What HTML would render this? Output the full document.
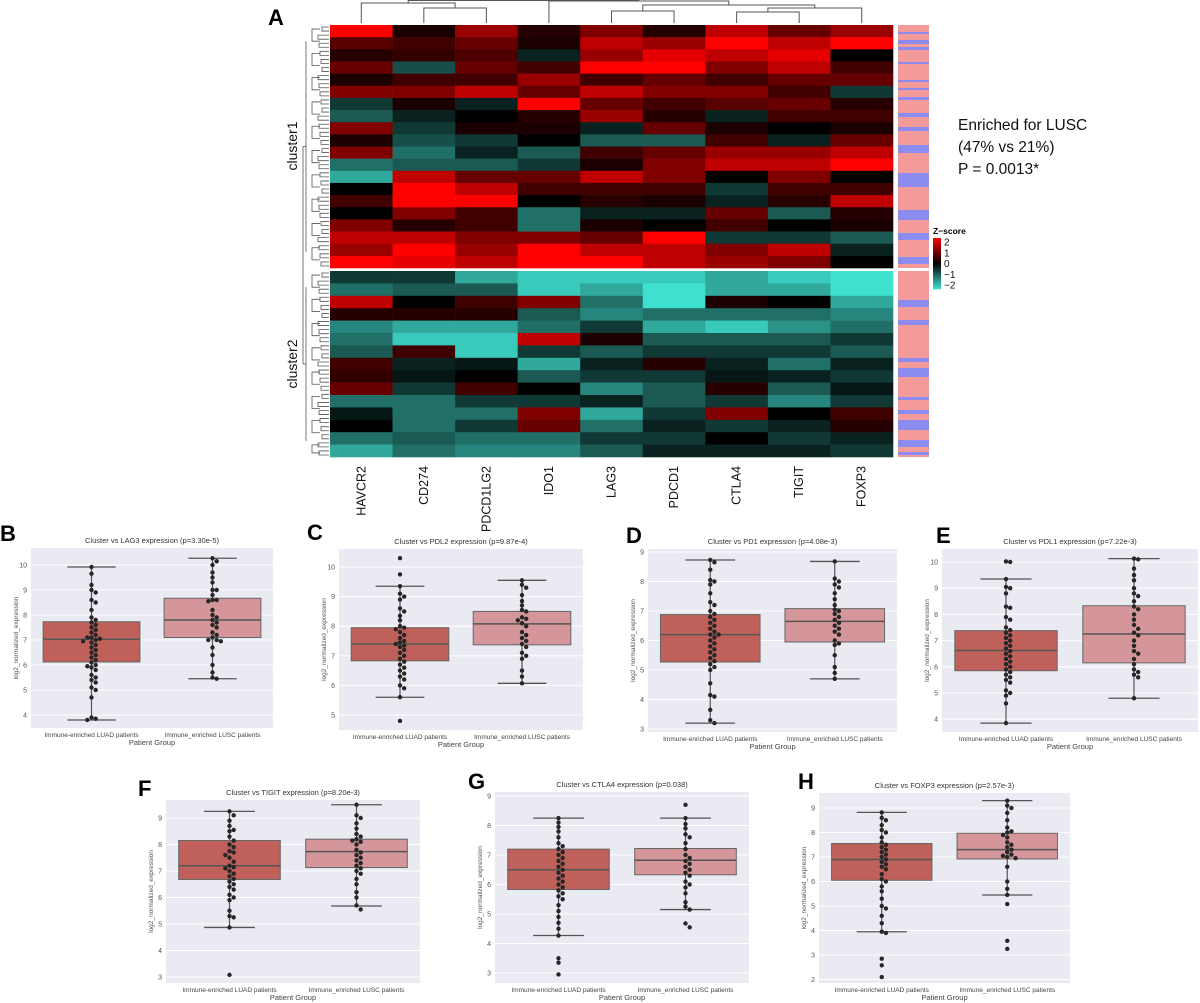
<!DOCTYPE html>
<html><head><meta charset="utf-8"><style>
html,body{margin:0;padding:0;background:#fff}
svg{display:block;font-family:"Liberation Sans",Arial,sans-serif}
</style></head><body>
<svg id="fig" width="1200" height="1003" viewBox="0 0 1200 1003">
<rect x="0" y="0" width="1200" height="1003" fill="#fff"/>
<text x="268" y="25" font-size="22" font-weight="bold">A</text>
<text x="958" y="130" font-size="15.5" fill="#111">Enriched for LUSC</text>
<text x="958" y="152" font-size="15.5" fill="#111">(47% vs 21%)</text>
<text x="958" y="174" font-size="15.5" fill="#111">P = 0.0013*</text>
<g id="heat"></g>
<g id="boxes"></g>
</svg>
<script>
// ---------- Heatmap data (block z-scores) ----------
const hmGenes = ["HAVCR2","CD274","PDCD1LG2","IDO1","LAG3","PDCD1","CTLA4","TIGIT","FOXP3"];
const hmC1 = [
 [2,0.7,0.3,0.8,0.2,1,-0.5,-0.8,1,0.2,1,-1,-1.5,0,0.5,0,1,1.5,1.2,2],
 [0.2,0.5,0.4,-0.7,0.5,1,0.2,-0.3,-0.5,-0.7,-1,-0.8,1.5,2,2,1,0.3,1.5,2,1.8],
 [1.2,0.8,0.6,0.8,0.5,1.5,-0.3,0,0.2,-0.5,-0.3,-0.8,0.8,1.5,2,0.5,0.5,1,1.2,1.5],
 [0.3,0.2,-0.3,0.5,1.2,0.8,2,0.3,0.2,0,-0.8,-0.5,0.8,0.5,0,-1,-1,1,2,2],
 [1,1.5,1.2,2,0.5,1.5,0.8,1.2,-0.3,-0.8,0.5,0.2,1.5,0.5,0.3,-0.3,0.2,0.8,1.5,2],
 [0.3,1.2,1.8,2,0.8,1,0.5,0.3,0.8,-0.8,0.8,1,1,0.5,0.2,-0.3,0,2,1.5,1.5],
 [1.5,2,1.5,1,0.5,1,0.7,-0.3,0.2,0.5,1.2,1.5,0,-0.5,-0.3,0.8,0.5,-0.5,1,1.2],
 [0.8,1.5,1.8,1.5,0.8,0.5,0.8,0.5,0,-0.3,1.2,1.5,1,0.5,0.3,-0.8,0,-0.5,1.5,1],
 [1.2,2,0,0.5,0.8,-0.5,0.3,0.5,0.2,0.8,1.5,2,0,0.5,1.5,0.3,0.2,-0.8,-0.3,0]
];
const hmC2 = [
 [-0.5,-1,1.5,0.3,-1.2,-1,-0.8,0.5,0.4,0.8,-1,-0.2,0,-1,-1.5],
 [-0.5,-0.8,0,0.3,-1.5,-1.8,0.5,-0.3,-0.2,-0.5,-1,-1,-1,-0.8,-1],
 [-1.5,-0.8,0.5,0.3,-1.5,-1.8,-1.8,-0.2,0,0.5,-0.5,-1,-0.5,-1,-1.2],
 [-1.8,-1.8,1,-0.8,-1,1.5,-0.5,-1.5,-0.8,0,-0.5,1,0.8,-1,-1.2],
 [-1.8,-1.5,-1,-1.2,-0.5,0.2,-0.8,-0.3,-0.5,-1.2,-0.3,-1.5,-1,-0.5,-0.8],
 [-1.8,-2,-2,-1,-1.5,-0.8,-0.5,0.3,-0.5,-0.8,-0.8,-0.5,-0.3,-0.5,-0.3],
 [-1.5,-1.5,0.2,-1,-1.8,-0.8,-0.5,-0.3,-0.2,0.3,-0.5,1,-0.5,0,-0.3],
 [-1.8,-1.5,0,-1,-1.3,-0.8,-0.5,-1,-0.3,-0.8,-1.2,0,-0.3,-0.5,-0.3],
 [-2,-2,-1.5,-1.2,-1,-0.5,-0.8,-0.3,-0.5,-0.2,-0.5,0.5,0.3,-0.3,-0.5]
];
const legendTicks = [2,1,0,-1,-2];

// ---------- Box plot data ----------
const groups = ["Immune-enriched LUAD patients","Immune_enriched LUSC patients"];
const panelTitles = ["Cluster vs LAG3 expression (p=3.30e-5)","Cluster vs PDL2 expression (p=9.87e-4)","Cluster vs PD1 expression (p=4.08e-3)","Cluster vs PDL1 expression (p=7.22e-3)","Cluster vs TIGIT expression (p=8.20e-3)","Cluster vs CTLA4 expression (p=0.038)","Cluster vs FOXP3 expression (p=2.57e-3)"];
const panelLetters = ["B","C","D","E","F","G","H"];
const statsLUAD = [[3.8,6.12,7.03,7.73,9.92],[5.6,6.83,7.4,7.95,9.35],[3.2,5.27,6.2,6.88,8.73],[3.85,5.85,6.62,7.38,9.35],[4.87,6.68,7.2,8.15,9.25],[4.27,5.83,6.5,7.2,8.25],[3.95,6.05,6.9,7.55,8.82]];
const statsLUSC = [[5.45,7.1,7.8,8.67,10.27],[6.07,7.37,8.08,8.5,9.55],[4.7,5.95,6.65,7.08,8.68],[4.8,6.15,7.25,8.33,10.13],[5.68,7.13,7.73,8.2,9.5],[5.15,6.33,6.82,7.22,8.25],[5.45,6.92,7.3,7.97,9.3]];
const pointsLUAD = [
 [9.92,9.65,9.2,9.0,8.9,8.6,8.5,8.2,7.9,7.8,7.7,7.6,7.5,7.4,7.3,7.2,7.1,7.1,7.05,7.0,6.95,6.9,6.8,6.7,6.6,6.5,6.4,6.3,6.2,6.1,6.0,5.95,5.9,5.8,5.6,5.5,5.4,5.3,5.1,5.0,4.7,3.9,3.85,3.8],
 [10.3,9.75,9.35,9.1,9.0,8.9,8.6,8.5,8.35,8.2,8.0,7.95,7.9,7.8,7.7,7.6,7.5,7.45,7.4,7.35,7.3,7.2,7.1,7.0,6.9,6.8,6.7,6.6,6.5,6.4,6.3,6.2,6.0,5.9,5.6,4.8],
 [8.73,8.65,8.4,8.05,8.0,7.9,7.6,7.3,7.2,7.0,6.9,6.8,6.7,6.6,6.5,6.4,6.3,6.2,6.2,6.1,6.0,5.9,5.8,5.7,5.6,5.5,5.4,5.3,5.2,5.1,5.0,4.55,4.15,4.1,3.65,3.3,3.2],
 [10.02,10.0,9.35,9.05,9.0,8.8,8.3,8.25,7.9,7.8,7.5,7.4,7.3,7.2,7.1,7.0,6.9,6.8,6.7,6.6,6.5,6.4,6.3,6.2,6.1,6.0,5.9,5.8,5.7,5.6,5.5,5.4,5.1,5.0,4.9,4.6,3.85],
 [9.25,9.1,8.9,8.7,8.55,8.5,8.3,8.15,8.0,7.9,7.75,7.7,7.6,7.5,7.35,7.2,7.15,7.1,7.0,6.9,6.8,6.7,6.6,6.5,6.4,6.3,6.1,6.0,5.9,5.5,5.3,5.25,4.87,3.08],
 [8.25,8.1,7.95,7.8,7.6,7.4,7.3,7.2,7.1,7.0,6.9,6.8,6.7,6.6,6.5,6.4,6.3,6.2,6.1,6.0,5.9,5.8,5.7,5.6,5.5,5.3,5.1,4.9,4.7,4.5,4.27,3.5,3.35,2.95],
 [8.82,8.6,8.5,8.3,8.1,8.0,7.8,7.6,7.5,7.4,7.3,7.2,7.1,7.0,6.9,6.8,6.7,6.6,6.5,6.3,6.1,6.0,5.8,5.6,5.3,5.0,4.9,4.6,4.3,3.95,3.9,2.85,2.58,2.1]
];
const pointsLUSC = [
 [10.27,10.15,10.0,9.7,9.5,9.3,9.0,9.0,8.8,8.6,8.6,8.55,8.2,8.0,7.9,7.8,7.7,7.6,7.5,7.3,7.2,7.1,7.0,7.0,6.95,6.7,6.4,6.0,5.7,5.5,5.45],
 [9.55,9.4,9.3,9.05,8.85,8.7,8.55,8.5,8.3,8.25,8.2,8.1,8.0,7.8,7.7,7.6,7.5,7.4,7.3,7.1,7.0,6.9,6.5,6.3,6.07],
 [8.68,8.1,8.0,7.9,7.8,7.6,7.4,7.2,7.05,7.0,6.9,6.8,6.7,6.6,6.5,6.4,6.3,6.2,6.0,5.9,5.85,5.5,5.1,4.9,4.7],
 [10.13,10.1,9.75,9.5,9.3,9.0,8.8,8.7,8.5,8.3,8.2,8.0,7.8,7.6,7.45,7.3,7.2,7.0,6.8,6.6,6.5,6.3,6.1,5.9,5.8,5.7,5.6,4.8],
 [9.5,9.1,9.0,8.8,8.6,8.4,8.3,8.2,8.15,8.1,8.0,7.8,7.7,7.6,7.5,7.4,7.3,7.2,7.1,7.0,6.9,6.7,6.5,6.2,6.0,5.7,5.55],
 [8.7,8.25,8.05,7.9,7.7,7.6,7.4,7.2,7.0,6.9,6.8,6.7,6.6,6.5,6.4,6.3,6.1,6.0,5.9,5.7,5.4,5.25,5.15,4.68,4.55],
 [9.3,9.1,9.0,8.8,8.5,8.2,8.05,8.0,7.9,7.8,7.6,7.5,7.4,7.3,7.2,7.1,7.05,7.0,6.95,6.6,6.0,5.7,5.45,5.08,3.58,3.25]
];
const tickLabels = [[4,5,6,7,8,9,10],[5,6,7,8,9,10],[3,4,5,6,7,8,9],[4,5,6,7,8,9,10],[3,4,5,6,7,8,9],[3,4,5,6,7,8,9],[2,3,4,5,6,7,8,9]];

const NS="http://www.w3.org/2000/svg";
function mk(tag,attrs,parent){const e=document.createElementNS(NS,tag);for(const k in attrs)e.setAttribute(k,attrs[k]);parent.appendChild(e);return e;}

// ---------- Heatmap ----------
const heat=document.getElementById('heat');
const HX0=330,HX1=893,C1Y0=25,C1Y1=268,C2Y0=271,C2Y1=457;
const colW=(HX1-HX0)/hmGenes.length;
function zcol(z){z=Math.max(-2,Math.min(2,z));
 if(z>=0){const t=z/2;return `rgb(${Math.round(255*t)},0,0)`;}
 const t=-z/2;return `rgb(${Math.round(64*t)},${Math.round(224*t)},${Math.round(208*t)})`;}
function drawCluster(data,y0,y1){
 data.forEach((col,ci)=>{const h=(y1-y0)/col.length;
  col.forEach((v,ri)=>{const r=mk('rect',{x:HX0+ci*colW,y:y0+ri*h,width:colW+0.3,height:h+0.3,fill:zcol(v)},heat);
   
   });});
}
drawCluster(hmC1,C1Y0,C1Y1);drawCluster(hmC2,C2Y0,C2Y1);
hmGenes.forEach((g,i)=>{const cx=HX0+(i+0.5)*colW;
 const t=mk('text',{x:0,y:0,'font-size':12.5,'text-anchor':'end',transform:`translate(${cx+4},${466}) rotate(-90)`,fill:'#111'},heat);
 t.textContent=g;
 
 });
const cx=i=>HX0+(i+0.5)*colW;
const dg=mk('g',{stroke:'#555','stroke-width':1,fill:'none'},heat);

function link(xa,xb,y,ya,yb){mk('path',{d:`M${xa},${ya}V${y}H${xb}V${yb}`},dg);}
link(cx(1),cx(2),8,23,23);link(cx(0),(cx(1)+cx(2))/2,3,23,8);
link(cx(4),cx(5),11,23,23);link(cx(6),cx(7),12,23,23);
link((cx(6)+cx(7))/2,cx(8),8,12,23);
link((cx(4)+cx(5))/2,((cx(6)+cx(7))/2+cx(8))/2,5,11,8);
const rx=((cx(4)+cx(5))/2+((cx(6)+cx(7))/2+cx(8))/2)/2;
link(cx(3),rx,1,23,5);
link((cx(0)+(cx(1)+cx(2))/2)/2,(cx(3)+rx)/2,0.5,3,1);
const lg=mk('g',{stroke:'#555','stroke-width':0.8,fill:'none'},heat);

function leftTree(y0,y1,n){const step=(y1-y0)/n;
 for(let i=0;i<n;i+=2){const ya=y0+(i+0.5)*step,yb=y0+(i+1.5)*step;const xj=322-((i*7)%5);
  mk('path',{d:`M329,${ya}H${xj}V${yb}H329`},lg);}
 for(let i=0;i<n;i+=6){const ya=y0+(i+1)*step,yb=y0+Math.min(n-1,i+4)*step;const xj=312-((i*3)%6);
  mk('path',{d:`M${320},${ya}H${xj}V${yb}H320`},lg);}
 const mid=(y0+y1)/2;mk('path',{d:`M306,${y0+step*4}V${y1-step*4}`},lg);
 mk('path',{d:`M306,${mid}H303`},lg);}
leftTree(C1Y0,C1Y1,60);leftTree(C2Y0,C2Y1,46);
mk('path',{d:`M303,${(C1Y0+C1Y1)/2}V${(C2Y0+C2Y1)/2}`},lg);
[['cluster1',146],['cluster2',364]].forEach(([t,y])=>{const e=mk('text',{x:0,y:0,'font-size':14,'text-anchor':'middle',transform:`translate(297,${y}) rotate(-90)`,fill:'#111'},heat);e.textContent=t;
 });
const strip=mk('g',{},heat);
mk('rect',{x:898,y:C1Y0,width:31,height:C1Y1-C1Y0,fill:'#f49a9a'},strip);
mk('rect',{x:898,y:C2Y0,width:31,height:C2Y1-C2Y0,fill:'#f49a9a'},strip);
[[32,34],[40,44],[47,50],[62,64],[80,82],[88,90],[97,100],[113,117],[127,131],[145,153],[173,187],[210,220],[233,240],[257,264],[300,307],[320,325],[358,362],[368,377],[397,400],[410,414],[420,430],[440,447],[452,455]].forEach(([a,b])=>mk('rect',{x:898,y:a,width:31,height:b-a,fill:'#8c8cf0'},strip));
const lgd=mk('g',{},heat);
const lt=mk('text',{x:933,y:234,'font-size':8.5,'font-weight':'bold'},lgd);lt.textContent='Z\u2212score';
const LB0=238,LBH=51;
for(let i=0;i<LBH;i++){const z=2-4*(i+0.5)/LBH;mk('rect',{x:933,y:LB0+i,width:8,height:1.3,fill:zcol(z)},lgd);}
legendTicks.forEach(v=>{const y=LB0+4+(2-v)/4*(LBH-8);const t=mk('text',{x:944,y:y+3.5,'font-size':10,fill:'#111'},lgd);t.textContent=v<0?'\u2212'+Math.abs(v):String(v);
 });

// ---------- Box plots ----------
const layout=[
 {x0:31,x1:273,y0:548,y1:728,ref:10,refPx:565,ppu:25,lx:0,ly:541},
 {x0:339,x1:583,y0:549,y1:730,ref:10,refPx:567,ppu:29.6,lx:307,ly:540},
 {x0:648,x1:897,y0:549,y1:732,ref:9,refPx:552,ppu:29.5,lx:626,ly:543},
 {x0:942,x1:1198,y0:549,y1:732,ref:10,refPx:562,ppu:26.2,lx:936,ly:543},
 {x0:166,x1:420,y0:800,y1:983,ref:9,refPx:818,ppu:26.5,lx:138,ly:796},
 {x0:495,x1:749,y0:792,y1:983,ref:9,refPx:796,ppu:29.5,lx:468,ly:789},
 {x0:819,x1:1070,y0:793,y1:983,ref:9,refPx:808,ppu:24.5,lx:798,ly:789}
];
const boxes=document.getElementById('boxes');
layout.forEach((L,p)=>{
 const g=mk('g',{},boxes);
 
 
 const ys=v=>L.refPx+(L.ref-v)*L.ppu;
 const band=(L.x1-L.x0)/2;const xc=i=>L.x0+band*(i+0.5);
 const let_=mk('text',{x:L.lx,y:L.ly,'font-size':22,'font-weight':'bold'},g);let_.textContent=panelLetters[p];
 
 const bg=mk('rect',{x:L.x0,y:L.y0,width:L.x1-L.x0,height:L.y1-L.y0,fill:'#eaeaf2'},g);
 
 tickLabels[p].forEach(v=>{const y=ys(v);if(y<L.y0||y>L.y1)return;
  const gl=mk('line',{x1:L.x0,x2:L.x1,y1:y,y2:y,stroke:'#fff','stroke-width':1},g);
  
  const t=mk('text',{x:L.x0-4,y:y+2.5,'font-size':7,'text-anchor':'end',fill:'#555'},g);t.textContent=v;
  });
 const tt=mk('text',{x:(L.x0+L.x1)/2,y:L.y0-5,'font-size':7.5,'text-anchor':'middle',fill:'#333'},g);tt.textContent=panelTitles[p];
 
 const yl=mk('text',{x:0,y:0,'font-size':6.5,'text-anchor':'middle',fill:'#555',transform:`translate(${L.x0-13},${(L.y0+L.y1)/2}) rotate(-90)`},g);yl.textContent='log2_normalized_expression';
 
 groups.forEach((gn,i)=>{const t=mk('text',{x:xc(i),y:L.y1+9,'font-size':6.5,'text-anchor':'middle',fill:'#444'},g);t.textContent=gn;
  });
 const xt=mk('text',{x:(L.x0+L.x1)/2,y:L.y1+17,'font-size':7.5,'text-anchor':'middle',fill:'#444'},g);xt.textContent='Patient Group';
 
 [statsLUAD[p],statsLUSC[p]].forEach((s,i)=>{
  const c=xc(i),w=band*0.8,cw=band*0.4;
  const fill=i===0?'#c0605a':'#d4969a';
  const wl=mk('line',{x1:c,x2:c,y1:ys(s[0]),y2:ys(s[4]),stroke:'#555','stroke-width':1.2},g);
  
  const b=mk('rect',{x:c-w/2,y:ys(s[3]),width:w,height:ys(s[1])-ys(s[3]),fill:fill,stroke:'#666','stroke-width':1},g);
  
  const m=mk('line',{x1:c-w/2,x2:c+w/2,y1:ys(s[2]),y2:ys(s[2]),stroke:'#555','stroke-width':1.5},g);
  
  [s[0],s[4]].forEach(v=>{const cap=mk('line',{x1:c-cw/2,x2:c+cw/2,y1:ys(v),y2:ys(v),stroke:'#555','stroke-width':1.3},g);
   });
  const pts=(i===0?pointsLUAD:pointsLUSC)[p];const r=2.2,placed=[];
  pts.forEach(v=>{const y=ys(v);let k=0,x=c;
   for(;;){const off=(k===0?0:Math.ceil(k/2)*(k%2?1:-1))*r*1.9;x=c+off;
    if(placed.every(q=>(q[0]-x)**2+(q[1]-y)**2>=(2*r*0.95)**2))break;k++;}
   placed.push([x,y]);
   const d=mk('circle',{cx:x,cy:y,r:r,fill:'#262626'},g);
   });
 });
});
</script>
</body></html>
